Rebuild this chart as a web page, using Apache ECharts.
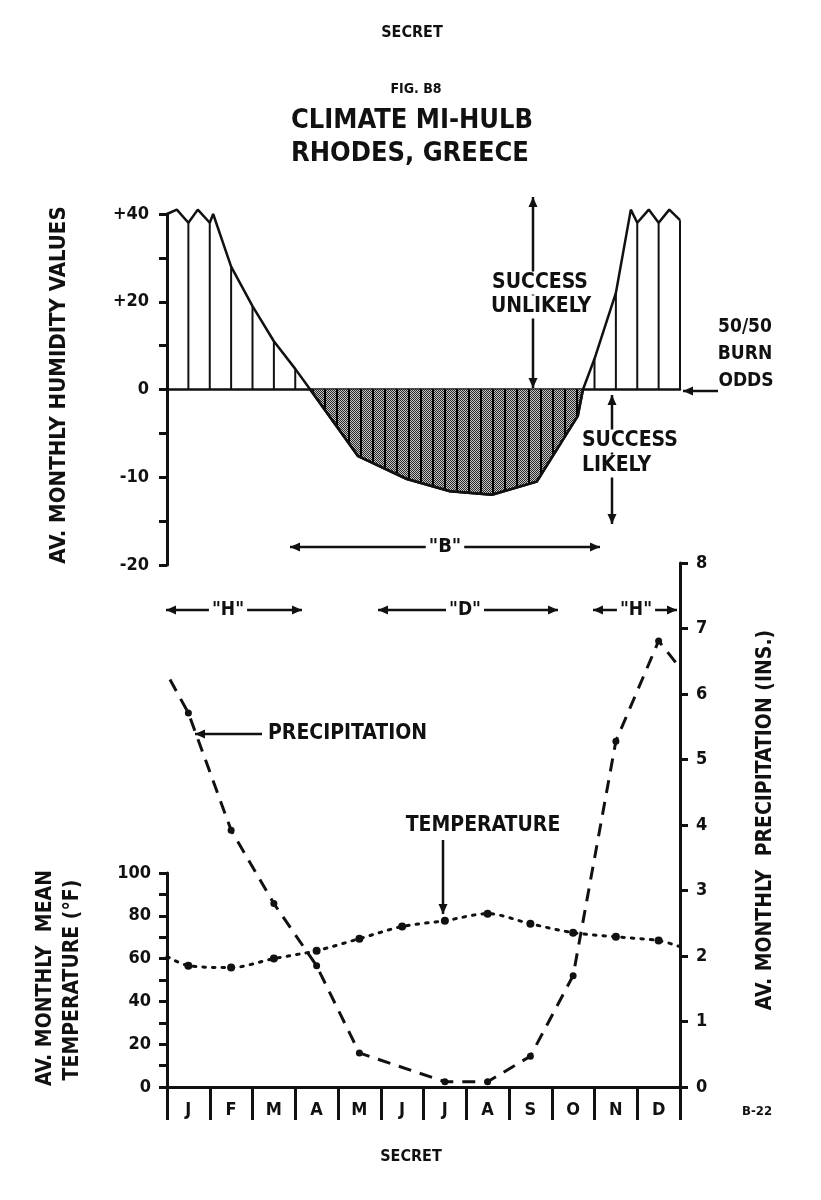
<html>
<head>
<meta charset="utf-8">
<title>Climate Mi-Hulb</title>
<script src="https://cdn.jsdelivr.net/npm/echarts@6.0.0/dist/echarts.min.js"></script>
<style>
  body { margin: 0; background: #fff; }
  #chartmain { width: 821px; height: 1200px; }
</style>
</head>
<body>
<div id="chartmain"></div>
<script type="text/javascript">
    // months along the bottom
    var months = ['J', 'F', 'M', 'A', 'M', 'J', 'J', 'A', 'S', 'O', 'N', 'D'];

    // humidity curve: position in months (0 = start of Jan, 12 = end of Dec) and value
    var humidityPos = [0, 0.23, 0.5, 0.72, 1.0, 1.08, 1.5, 2.0, 2.5, 3.0, 3.35, 4.47, 5.61, 6.62, 7.6, 8.65, 9.61, 9.73, 10.0, 10.5, 10.85, 11.0, 11.27, 11.5, 11.75, 12];
    var humidityVal = [40, 41, 38, 41, 38, 40, 28, 19, 11, 4.7, 0, -7.6, -10.2, -11.6, -12, -10.5, -3, 0, 7, 22, 41, 38, 41, 38, 41, 38.6];
    // vertical hatch strokes under the positive part
    var hatchPos = [0.5, 1, 1.5, 2, 2.5, 3, 10, 10.5, 11, 11.5, 12];
    var hatchVal = [38, 38, 28, 19, 11, 4.7, 7, 22, 38, 38, 38.6];
    // humidity axis tick labels (the positive half is drawn at half scale)
    var humidityTickVals = [40, 20, 0, -10, -20];
    var humidityTickText = ['+40', '+20', '0', '-10', '-20'];

    // precipitation (ins.)
    var precipPos = [0.07, 0.5, 1.5, 2.5, 3.5, 4.5, 6.5, 7.5, 8.5, 9.5, 10.5, 11.5, 12];
    var precipVal = [6.22, 5.71, 3.92, 2.8, 1.85, 0.52, 0.08, 0.08, 0.47, 1.7, 5.28, 6.81, 6.4];

    // temperature (deg F)
    var tempPos = [0, 0.5, 1.5, 2.5, 3.5, 4.5, 5.5, 6.5, 7.5, 8.5, 9.5, 10.5, 11.5, 12];
    var tempVal = [61, 56.7, 55.8, 60, 63.7, 69.3, 75, 77.7, 81, 76.3, 72.1, 70.2, 68.4, 65.6];

    var FONT = "'Liberation Sans Narrow', 'DejaVu Sans Condensed', sans-serif";
    var INK = '#111';

    // positive humidity values use half the scale of negative ones
    function humScale(v) { return v > 0 ? v / 2 : v; }

    function pairs(xs, ys, f) {
        return xs.map(function (x, i) { return [x, f ? f(ys[i]) : ys[i]]; });
    }

    // stipple + vertical stroke pattern for the dry area
    function makeStipple() {
        var c = document.createElement('canvas');
        c.width = 12; c.height = 4;
        var g = c.getContext('2d');
        g.fillStyle = '#c4c4c4';
        g.fillRect(0, 0, 12, 4);
        g.fillStyle = '#2a2a2a';
        for (var x = 2; x < 12; x++) {
            for (var y = 0; y < 4; y++) {
                if ((x + y) % 2 === 0) g.fillRect(x, y, 1, 1);
            }
        }
        g.fillStyle = '#000';
        g.fillRect(0, 0, 2, 4);
        return c;
    }

    function txt(x, y, s, size, opt) {
        opt = opt || {};
        var el = {
            type: 'text', x: x, y: y, z: 100,
            rotation: opt.rot || 0,
            style: {
                text: s, x: 0, y: 0,
                fontFamily: FONT, fontWeight: 'bold', fontSize: size,
                fill: INK, align: opt.align || 'center', verticalAlign: 'middle'
            }
        };
        if (opt.bg) {
            el.style.backgroundColor = '#fff';
            el.style.padding = [1, 3];
        }
        return el;
    }

    function head(x, y, dx, dy) {
        var len = Math.sqrt(dx * dx + dy * dy);
        var ux = dx / len, uy = dy / len;
        var L = 10, W = 4.5;
        return {
            type: 'polygon', z: 90,
            shape: { points: [[x, y], [x - ux * L - uy * W, y - uy * L + ux * W], [x - ux * L + uy * W, y - uy * L - ux * W]] },
            style: { fill: INK }
        };
    }

    function arrow(x1, y1, x2, y2, startHead, endHead) {
        var els = [{
            type: 'line', z: 90,
            shape: { x1: x1, y1: y1, x2: x2, y2: y2 },
            style: { stroke: INK, lineWidth: 2.5 }
        }];
        if (endHead) els.push(head(x2, y2, x2 - x1, y2 - y1));
        if (startHead) els.push(head(x1, y1, x1 - x2, y1 - y2));
        return els;
    }

    var graphics = [].concat(
        txt(412, 33, 'SECRET', 16),
        txt(416, 89, 'FIG. B8', 14),
        txt(412, 121, 'CLIMATE MI-HULB', 27),
        txt(410, 154, 'RHODES, GREECE', 27),
        txt(59, 385, 'AV. MONTHLY HUMIDITY VALUES', 22, { rot: Math.PI / 2 }),
        arrow(533, 197, 533, 388, true, true),
        txt(540, 283, 'SUCCESS', 21, { bg: true }),
        txt(541, 307, 'UNLIKELY', 21, { bg: true }),
        arrow(718, 391, 683, 391, false, true),
        txt(745, 327, '50/50', 19),
        txt(745, 354, 'BURN', 19),
        txt(746, 381, 'ODDS', 19),
        arrow(612, 395, 612, 524, true, true),
        txt(579, 441, 'SUCCESS', 21, { bg: true, align: 'left' }),
        txt(579, 466, 'LIKELY', 21, { bg: true, align: 'left' }),
        arrow(290, 547, 600, 547, true, true),
        txt(445, 547, '"B"', 20, { bg: true }),
        arrow(166, 610, 302, 610, true, true),
        txt(228, 610, '"H"', 19, { bg: true }),
        arrow(378, 610, 558, 610, true, true),
        txt(465, 610, '"D"', 19, { bg: true }),
        arrow(593, 610, 677, 610, true, true),
        txt(636, 610, '"H"', 19, { bg: true }),
        arrow(262, 734, 195, 734, false, true),
        txt(268, 734, 'PRECIPITATION', 21, { align: 'left' }),
        arrow(443, 840, 443, 914, false, true),
        txt(483, 826, 'TEMPERATURE', 21),
        txt(46, 978, 'AV. MONTHLY  MEAN', 21, { rot: Math.PI / 2 }),
        txt(73, 980, 'TEMPERATURE (\u00B0F)', 21, { rot: Math.PI / 2 }),
        txt(766, 820, 'AV. MONTHLY  PRECIPITATION (INS.)', 21, { rot: Math.PI / 2 }),
        txt(757, 1112, 'B-22', 13),
        txt(411, 1157, 'SECRET', 16)
    );

    var labelStyle = { color: INK, fontFamily: FONT, fontWeight: 'bold', fontSize: 18 };
    var axisLine = { show: true, onZero: false, lineStyle: { color: INK, width: 3 } };
    var axisTick = { show: true, inside: false, length: 8, lineStyle: { color: INK, width: 3 } };

    var humidityLine = pairs(humidityPos, humidityVal, humScale);
    var dryArea = humidityLine.filter(function (p, i) { return humidityVal[i] <= 0; });

    var myChart = echarts.init(document.getElementById('chartmain'), null, { renderer: 'canvas' });
    myChart.setOption({
        animation: false,
        backgroundColor: '#fff',
        graphic: graphics,
        grid: [
            { left: 167, top: 214, width: 513, height: 351 },
            { left: 167, top: 563, width: 513, height: 524 },
            { left: 167, top: 873, width: 513, height: 214 }
        ],
        xAxis: [
            {
                gridIndex: 0, type: 'value', min: 0, max: 12,
                axisLine: { show: true, onZero: true, lineStyle: { color: INK, width: 2.5 } },
                axisTick: { show: false }, axisLabel: { show: false }, splitLine: { show: false }
            },
            {
                gridIndex: 1, type: 'category', data: months, boundaryGap: true, position: 'bottom',
                axisLine: axisLine,
                axisTick: { show: true, inside: false, interval: 0, length: 33, lineStyle: { color: INK, width: 3 } },
                axisLabel: Object.assign({ interval: 0, margin: 14 }, labelStyle),
                splitLine: { show: false }
            },
            { gridIndex: 1, type: 'value', min: 0, max: 12, show: false },
            { gridIndex: 2, type: 'value', min: 0, max: 12, show: false }
        ],
        yAxis: [
            {
                gridIndex: 0, type: 'value', min: -20, max: 20, interval: 5,
                axisLine: axisLine, axisTick: axisTick, splitLine: { show: false },
                axisLabel: Object.assign({
                    margin: 18,
                    formatter: function (t) {
                        for (var i = 0; i < humidityTickVals.length; i++) {
                            if (humScale(humidityTickVals[i]) === t) return humidityTickText[i];
                        }
                        return '';
                    }
                }, labelStyle)
            },
            {
                gridIndex: 1, type: 'value', min: 0, max: 8, interval: 1, position: 'right',
                axisLine: axisLine, axisTick: axisTick, splitLine: { show: false },
                axisLabel: Object.assign({ margin: 16 }, labelStyle)
            },
            {
                gridIndex: 2, type: 'value', min: 0, max: 100, interval: 10, position: 'left',
                axisLine: axisLine, axisTick: axisTick, splitLine: { show: false },
                axisLabel: Object.assign({
                    margin: 16,
                    formatter: function (v) { return v % 20 === 0 ? String(v) : ''; }
                }, labelStyle)
            }
        ],
        series: [
            {
                name: 'dry', type: 'line', xAxisIndex: 0, yAxisIndex: 0,
                data: dryArea, symbol: 'none',
                lineStyle: { color: INK, width: 2.5 },
                areaStyle: { color: { image: makeStipple(), repeat: 'repeat' }, opacity: 1 }
            },
            {
                name: 'hatch', type: 'bar', xAxisIndex: 0, yAxisIndex: 0,
                data: pairs(hatchPos, hatchVal, humScale), barWidth: 2,
                itemStyle: { color: INK }
            },
            {
                name: 'humidity', type: 'line', xAxisIndex: 0, yAxisIndex: 0,
                data: humidityLine, symbol: 'none', clip: false,
                lineStyle: { color: INK, width: 2.5 }
            },
            {
                name: 'precipitation', type: 'line', xAxisIndex: 2, yAxisIndex: 1,
                data: pairs(precipPos, precipVal).map(function (p, i, a) {
                    return (i === 0 || i === a.length - 1) ? { value: p, symbol: 'none' } : p;
                }),
                symbol: 'circle', symbolSize: 7, itemStyle: { color: INK },
                lineStyle: { color: INK, width: 3, type: [13, 9] }
            },
            {
                name: 'temperature', type: 'line', xAxisIndex: 3, yAxisIndex: 2,
                data: pairs(tempPos, tempVal).map(function (p, i, a) {
                    return (i === 0 || i === a.length - 1) ? { value: p, symbol: 'none' } : p;
                }),
                smooth: 0.3,
                symbol: 'circle', symbolSize: 8, itemStyle: { color: INK },
                lineStyle: { color: INK, width: 3, type: [2.5, 7], cap: 'round' }
            }
        ]
    });
</script>
</body>
</html>
